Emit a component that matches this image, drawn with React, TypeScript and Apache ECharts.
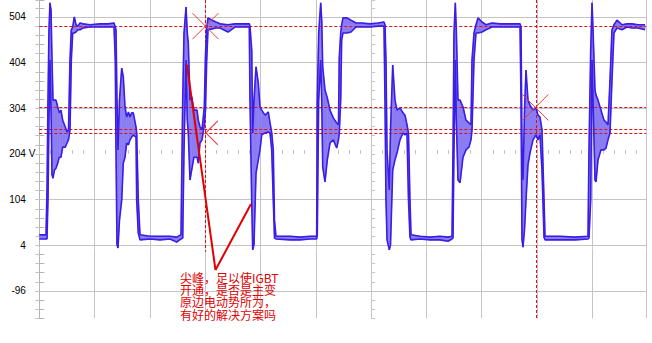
import React, { useEffect, useRef } from 'react';
import * as echarts from 'echarts';

// time axis in microseconds (10 us per division, no labels shown on the scope)
const timeUs = [0,1.21,1.39,1.57,1.75,1.93,2.12,2.30,2.48,2.75,3.02,3.33,3.62,3.92,4.23,4.70,5.01,5.28,5.55,5.79,6.04,6.33,6.64,7.00,7.36,7.90,9.17,10.98,12.42,13.51,13.74,13.87,14.05,14.23,14.50,14.90,15.19,15.50,15.80,16.13,16.40,16.71,17.00,17.49,17.61,17.90,18.21,20.02,21.83,23.63,24.85,25.62,25.93,26.17,26.53,26.76,26.94,27.25,27.56,27.97,28.52,28.75,29.06,29.42,29.84,30.05,30.27,30.51,31.23,31.95,32.68,34.12,35.39,37.20,37.97,38.10,38.41,38.59,38.82,39.19,39.60,39.91,40.22,40.81,41.41,41.72,42.03,42.31,42.53,42.80,45.33,47.14,48.95,50.16,50.27,50.52,50.89,51.07,51.25,51.66,52.08,52.57,53.16,53.78,54.10,54.25,54.50,54.68,54.92,55.64,56.37,57.27,58.35,59.80,61.25,62.33,62.51,62.69,62.88,63.29,63.51,63.91,64.32,64.68,65.23,65.77,66.13,66.49,66.76,67.03,67.22,68.84,70.65,72.46,73.91,74.63,74.81,74.99,75.23,75.41,75.71,76.08,76.62,77.16,77.70,78.06,78.25,78.61,78.97,79.33,80.05,80.78,81.86,83.31,85.12,86.93,87.11,87.29,87.47,87.74,88.01,88.37,88.73,89.28,89.82,90.18,90.54,90.90,91.27,91.45,94.16,96.87,99.22,99.40,99.71,99.95,100.13,100.49,100.67,101.03,101.57,102.12,102.48,102.84,103.20,103.56,103.92,104.47,105.37,106.27,107.18,108.26,109.53];

// upper envelope of the trace (V)
const upperV = [27,27,125,322,476,535,519,410,322,322,322,307,294,300,278,263,252,257,410,476,482,504,487,484,491,489,487,489,489,491,482,476,322,213,322,392,373,307,285,296,285,294,294,263,250,103,27,24,24,24,22,27,322,469,526,469,447,322,329,300,300,278,263,257,307,421,480,502,497,493,489,487,489,489,489,484,432,250,322,395,360,307,300,289,296,272,250,213,59,24,24,22,24,24,322,469,535,497,395,344,327,300,283,272,268,416,469,487,502,502,497,491,491,489,491,493,487,410,213,125,257,399,322,300,305,294,289,268,250,103,27,24,22,24,22,24,213,469,535,476,322,322,307,278,272,268,410,469,487,502,493,487,491,489,489,489,482,213,147,300,388,322,311,300,305,289,285,257,103,24,24,22,24,213,432,535,476,344,333,322,300,278,274,268,366,476,487,497,487,489,489,487,487];

// lower envelope of the trace (V)
const lowerV = [18,18,18,103,278,410,300,158,151,169,173,184,197,197,219,219,228,235,257,410,469,469,471,476,476,480,482,482,482,482,410,213,5,-2,59,103,184,197,228,224,235,241,246,241,103,31,16,18,16,18,11,18,20,213,410,278,250,147,169,197,197,184,228,235,268,300,410,476,478,480,480,471,482,482,482,322,103,-6,5,162,191,213,246,250,252,250,213,103,20,18,16,16,18,18,27,322,410,322,176,143,191,228,235,217,235,250,322,454,469,469,471,482,482,482,484,484,322,103,16,-6,5,169,191,206,235,250,246,250,103,22,16,18,16,16,13,18,20,213,410,278,147,141,197,213,219,235,257,410,469,469,471,476,482,482,482,482,322,16,0,38,103,180,206,235,246,235,246,169,22,16,16,16,18,20,103,410,322,147,143,191,213,213,217,235,250,366,469,480,476,482,480,480,476];

const yTickValues = [504, 404, 304, 204, 104, 4, -96];
const yTickLabels = ['504', '404', '304', '204', '104', '4', '-96'];
const yUnit = 'V';
const gridLevels = [504, 404, 304, 104, 4, -96];
const cursorLevels = [306, 258, 249, 484];
const cursorTimeA = 30.02;
const cursorTimeAEnd = -10;
const cursorTimeB = 89.8;
const calloutPath = [[26.7, 399], [31.86, -50], [38.28, 94.5]];
const crossMarks = [[30.05, 484], [89.7, 306]];
const halfCrossMarks = [[31.2, 250]];
const noteLines = ['尖峰，足以使IGBT', '开通，是否是主变', '原边电动势所为，', '有好的解决方案吗'];

const Y_MIN = -156;
const Y_MAX = 541.2;
const X_MAX = 109.71;

export default function App() {
  const ref = useRef<HTMLDivElement>(null);
  useEffect(() => {
    if (!ref.current) return;
    const chart = echarts.init(ref.current, null, { renderer: 'svg' });
    const lo = timeUs.map((t, i) => [t, lowerV[i]]);
    const hi = timeUs.map((t, i) => [t, upperV[i]]);
    const segs = timeUs.slice(0, -1).map((t, i) => [
      t, upperV[i], lowerV[i], timeUs[i + 1], upperV[i + 1], lowerV[i + 1],
    ]);
    const gridColor = '#c4c4c4';
    const traceColor = '#3a1ee6';
    const fillColor = '#8b7cf2';
    const cursorColor = '#e01010';
    const font = '"Liberation Sans", Arial, sans-serif';
    const option: any = {
      animation: false,
      backgroundColor: '#ffffff',
      grid: [
        { left: 39.3, right: 6, top: 0, bottom: 24.6, outerBoundsMode: 'none' },
        { left: 39.3, right: 6, top: 0, height: 154, outerBoundsMode: 'none' },
        { left: 39.3, width: 331.8, top: 0, bottom: 24.6, outerBoundsMode: 'none' },
      ],
      xAxis: [
        {
          type: 'value', gridIndex: 0, min: 0, max: X_MAX, interval: 10,
          axisLine: { show: false },
          axisTick: { show: true, length: 3, lineStyle: { color: '#d0d0d0' } },
          axisLabel: { show: false },
          splitLine: { show: true, lineStyle: { color: gridColor, width: 1 } },
        },
        {
          type: 'value', gridIndex: 1, min: 0, max: X_MAX, interval: 2,
          axisLine: { show: false },
          axisTick: { show: true, inside: true, length: 4, lineStyle: { color: gridColor } },
          axisLabel: { show: false }, splitLine: { show: false },
        },
        {
          type: 'value', gridIndex: 1, min: 0, max: X_MAX, interval: 2,
          axisLine: { show: false },
          axisTick: { show: true, inside: false, length: 4, lineStyle: { color: gridColor } },
          axisLabel: { show: false }, splitLine: { show: false },
        },
        { type: 'value', gridIndex: 2, min: 0, max: 60, show: false },
      ],
      yAxis: [
        {
          type: 'value', gridIndex: 0, min: Y_MIN, max: Y_MAX, interval: 20,
          axisLine: { show: true, lineStyle: { color: '#b4b4b4' } },
          axisTick: { show: true, inside: true, length: 5, lineStyle: { color: '#b4b4b4' } },
          splitLine: { show: false },
          axisLabel: {
            show: true, margin: 4, color: '#000', fontSize: 10, fontFamily: font,
            formatter: (val: number) => {
              const idx = yTickValues.indexOf(Math.round(val));
              if (idx < 0) return '';
              const lab = yTickLabels[idx];
              return Math.round(val) === 204 ? `${lab}{u| ${yUnit}}` : `${lab}{h| ${yUnit}}`;
            },
            rich: {
              u: { color: '#000', fontSize: 10, fontFamily: font },
              h: { color: 'transparent', fontSize: 10, fontFamily: font },
            },
          },
        },
        { type: 'value', gridIndex: 1, min: 204, max: Y_MAX, show: false },
        {
          type: 'value', gridIndex: 2, position: 'right', min: Y_MIN, max: Y_MAX, interval: 20,
          axisLine: { show: false },
          axisTick: { show: true, inside: true, length: 4, lineStyle: { color: gridColor } },
          axisLabel: { show: false }, splitLine: { show: false },
        },
        {
          type: 'value', gridIndex: 2, position: 'right', min: Y_MIN, max: Y_MAX, interval: 20,
          axisLine: { show: false },
          axisTick: { show: true, inside: false, length: 4, lineStyle: { color: gridColor } },
          axisLabel: { show: false }, splitLine: { show: false },
        },
      ],
      series: [
        {
          name: 'envelope', type: 'custom', xAxisIndex: 0, yAxisIndex: 0, data: segs,
          silent: true, z: 2, clip: true,
          encode: { x: [0, 3], y: [1, 2, 4, 5] },
          renderItem: (params: any, api: any) => {
            const p1 = api.coord([api.value(0), api.value(1)]);
            const p2 = api.coord([api.value(3), api.value(4)]);
            const p3 = api.coord([api.value(3), api.value(5)]);
            const p4 = api.coord([api.value(0), api.value(2)]);
            return {
              type: 'polygon',
              shape: { points: [p1, p2, p3, p4] },
              style: { fill: fillColor, stroke: fillColor, lineWidth: 0.6 },
            };
          },
          markLine: {
            silent: true, symbol: 'none', z: 1,
            label: { show: false },
            lineStyle: { color: gridColor, type: 'solid', width: 1 },
            data: gridLevels.map((v) => ({ yAxis: v })),
          },
        },
        {
          name: 'cursors', type: 'line', xAxisIndex: 0, yAxisIndex: 0, data: [],
          symbol: 'none', silent: true, z: 3,
          markLine: {
            silent: true, symbol: 'none', z: 3,
            label: { show: false },
            lineStyle: { color: cursorColor, type: [3, 2], width: 1 },
            data: [
              ...cursorLevels.map((v) => [{ coord: [0, v] }, { coord: [X_MAX, v] }]),
              [{ coord: [cursorTimeA, Y_MAX] }, { coord: [cursorTimeA, cursorTimeAEnd] }],
              [{ coord: [cursorTimeB, Y_MAX] }, { coord: [cursorTimeB, Y_MIN] }],
            ],
          },
        },
        {
          name: 'upper', type: 'line', xAxisIndex: 0, yAxisIndex: 0, data: hi,
          symbol: 'none', silent: true, z: 4,
          lineStyle: { color: traceColor, width: 1.6 },
        },
        {
          name: 'lower', type: 'line', xAxisIndex: 0, yAxisIndex: 0, data: lo,
          symbol: 'none', silent: true, z: 4,
          lineStyle: { color: traceColor, width: 1.6 },
        },
        {
          name: 'callout', type: 'line', xAxisIndex: 0, yAxisIndex: 0, data: [],
          symbol: 'none', silent: true, z: 5,
          markLine: {
            silent: true, symbol: 'none', z: 5,
            label: { show: false },
            lineStyle: { color: '#e00000', type: 'solid', width: 2 },
            data: calloutPath.slice(0, -1).map((p, i) => [{ coord: p }, { coord: calloutPath[i + 1] }]),
          },
          markPoint: {
            silent: true, z: 6,
            label: { show: false },
            data: [
              ...crossMarks.map((c) => ({
                coord: c, symbol: 'path://M0,0L20,20M20,0L0,20', symbolSize: 26,
                itemStyle: { color: 'none', borderColor: '#e04040', borderWidth: 1 },
              })),
              ...halfCrossMarks.map((c) => ({
                coord: c, symbol: 'path://M0,10L10,0M0,10L10,20', symbolSize: [12, 24],
                itemStyle: { color: 'none', borderColor: '#e04040', borderWidth: 1 },
              })),
            ],
          },
        },
      ],
      graphic: noteLines.map((line, i) => ({
        type: 'text', left: 180, top: 271 + i * 12.4, z: 20, silent: true,
        style: {
          text: line,
          fill: '#e00000',
          fontSize: 12,
          fontFamily: '"Noto Sans CJK SC", sans-serif',
          lineHeight: 12,
        },
      })),
    };
    chart.setOption(option);
    return () => chart.dispose();
  }, []);
  return (
    <div
      ref={ref}
      style={{ position: 'fixed', left: 0, top: 0, width: 652, height: 343, background: '#fff' }}
    />
  );
}
